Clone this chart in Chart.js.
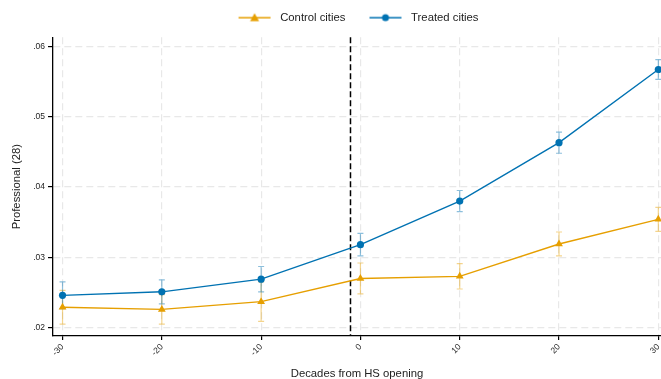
<!DOCTYPE html>
<html><head><meta charset="utf-8">
<script src="https://cdn.jsdelivr.net/npm/chart.js@4.4.1/dist/chart.umd.min.js"></script>
<style>html,body{margin:0;padding:0;background:#fff;}canvas{display:block;}</style>
</head><body>
<canvas id="c" width="661" height="379"></canvas>
<script>
// ---- data ----
const decades = [-30, -20, -10, 0, 10, 20, 30];
const xTicks = [-30, -20, -10, 0, 10, 20, 30];
const yTicks = [0.02, 0.03, 0.04, 0.05, 0.06];
const seriesNames = ['Control cities', 'Treated cities'];
const controlValues = [0.0229, 0.0226, 0.0237, 0.0270, 0.0273, 0.0319, 0.0354];
const controlErr    = [0.0024, 0.0021, 0.0028, 0.0022, 0.0018, 0.0017, 0.0017];
const treatedValues = [0.0246, 0.0251, 0.0269, 0.0318, 0.0380, 0.0463, 0.0567];
const treatedErr    = [0.0019, 0.0017, 0.0018, 0.0016, 0.0015, 0.0015, 0.0014];
const eventLine = -1;
const xTitle = 'Decades from HS opening';
const yTitle = 'Professional (28)';

const FONT = "'Liberation Sans', Arial, Helvetica, sans-serif";
const ORANGE = '#E69F00', BLUE = '#0072B2';

function makeIcon(color, style) {
  const c = document.createElement('canvas');
  c.width = 50; c.height = 12;
  const g = c.getContext('2d');
  g.strokeStyle = color; g.fillStyle = color; g.lineWidth = 1.5;
  g.beginPath(); g.moveTo(14, 6); g.lineTo(46, 6); g.stroke();
  g.beginPath();
  if (style === 'triangle') {
    g.moveTo(30, 1.5); g.lineTo(34.5, 9.5); g.lineTo(25.5, 9.5); g.closePath();
  } else {
    g.arc(30, 6, 3.5, 0, Math.PI * 2);
  }
  g.fill();
  return c;
}
const icons = [makeIcon(ORANGE, 'triangle'), makeIcon(BLUE, 'circle')];

const toPts = vals => decades.map((d, i) => ({x: d, y: vals[i]}));

const errorBarPlugin = {
  id: 'errorBars',
  beforeDatasetsDraw(chart) {
    const {ctx, scales: {x, y}, chartArea} = chart;
    const vx = x.getPixelForValue(eventLine);
    ctx.save();
    ctx.strokeStyle = '#000'; ctx.lineWidth = 1.5; ctx.setLineDash([6, 3]);
    ctx.beginPath(); ctx.moveTo(vx, chartArea.top); ctx.lineTo(vx, chartArea.bottom); ctx.stroke();
    ctx.restore();
    chart.data.datasets.forEach(ds => {
      ctx.save();
      ctx.strokeStyle = ds.errorColor; ctx.lineWidth = 1.2;
      ds.data.forEach((p, j) => {
        const px = x.getPixelForValue(p.x);
        const t = y.getPixelForValue(p.y + ds.errors[j]);
        const b = y.getPixelForValue(p.y - ds.errors[j]);
        ctx.beginPath();
        ctx.moveTo(px, t); ctx.lineTo(px, b);
        ctx.moveTo(px - 3, t); ctx.lineTo(px + 3, t);
        ctx.moveTo(px - 3, b); ctx.lineTo(px + 3, b);
        ctx.stroke();
      });
      ctx.restore();
    });
  }
};

const legendShift = {
  id: 'legendShift',
  afterLayout(chart) {
    const lg = chart.legend;
    if (lg) { lg.left += 21; lg.right += 21; lg.top -= 4; lg.bottom -= 4; }
  }
};

new Chart(document.getElementById('c'), {
  type: 'line',
  data: {
    datasets: [
      { label: seriesNames[0], data: toPts(controlValues), errors: controlErr,
        errorColor: 'rgba(230,159,0,0.45)', borderColor: ORANGE, backgroundColor: ORANGE,
        borderWidth: 1.4, pointStyle: 'triangle', pointRadius: 4.5, pointBorderWidth: 0,
        tension: 0, clip: false },
      { label: seriesNames[1], data: toPts(treatedValues), errors: treatedErr,
        errorColor: 'rgba(0,114,178,0.45)', borderColor: BLUE, backgroundColor: BLUE,
        borderWidth: 1.4, pointStyle: 'circle', pointRadius: 3.6, pointBorderWidth: 0,
        tension: 0, clip: false }
    ]
  },
  options: {
    responsive: false,
    animation: false,
    devicePixelRatio: 1,
    layout: { autoPadding: false, padding: { top: 6, left: 0, right: 0, bottom: 0 } },
    plugins: {
      tooltip: { enabled: false },
      legend: {
        position: 'top',
        labels: {
          usePointStyle: true, pointStyleWidth: 50, padding: 10,
          color: '#222', font: { family: FONT, size: 11.3 },
          generateLabels(chart) {
            const items = Chart.defaults.plugins.legend.labels.generateLabels(chart);
            items.forEach((it, i) => { it.pointStyle = icons[i]; });
            return items;
          }
        }
      }
    },
    scales: {
      x: {
        type: 'linear', min: -30.96, max: 30.27,
        afterBuildTicks: s => { s.ticks = xTicks.map(v => ({value: v})); },
        afterFit: s => { s.height = 43; s.paddingLeft = 0; s.paddingRight = 0; },
        ticks: { autoSkip: false, minRotation: 45, maxRotation: 45, padding: 2,
          color: '#222', font: { family: FONT, size: 8.5 }, callback: v => String(v) },
        grid: { color: '#e8e8e8', lineWidth: 1.2, tickLength: 4, tickColor: '#000', tickWidth: 1.2 },
        border: { display: true, color: '#000', width: 1.3, dash: [7, 4] },
        title: { display: true, text: xTitle, color: '#222', font: { family: FONT, size: 11.3 },
          padding: { top: 0, bottom: -2 } }
      },
      y: {
        type: 'linear', min: 0.01882, max: 0.06128,
        afterBuildTicks: s => { s.ticks = yTicks.map(v => ({value: v})); },
        afterFit: s => { s.width = 53; s.paddingTop = 0; s.paddingBottom = 0; },
        ticks: { autoSkip: false, padding: 3, color: '#222', font: { family: FONT, size: 8.5 },
          callback: v => v.toFixed(2).replace(/^0/, '') },
        grid: { color: '#e8e8e8', lineWidth: 1.2, tickLength: 5, tickColor: '#000', tickWidth: 1.2 },
        border: { display: true, color: '#000', width: 1.3, dash: [7, 4] },
        title: { display: true, text: yTitle, color: '#222', font: { family: FONT, size: 11.3 },
          padding: { top: 10, bottom: 0 } }
      }
    }
  },
  plugins: [errorBarPlugin, legendShift]
});
</script>
</body></html>
